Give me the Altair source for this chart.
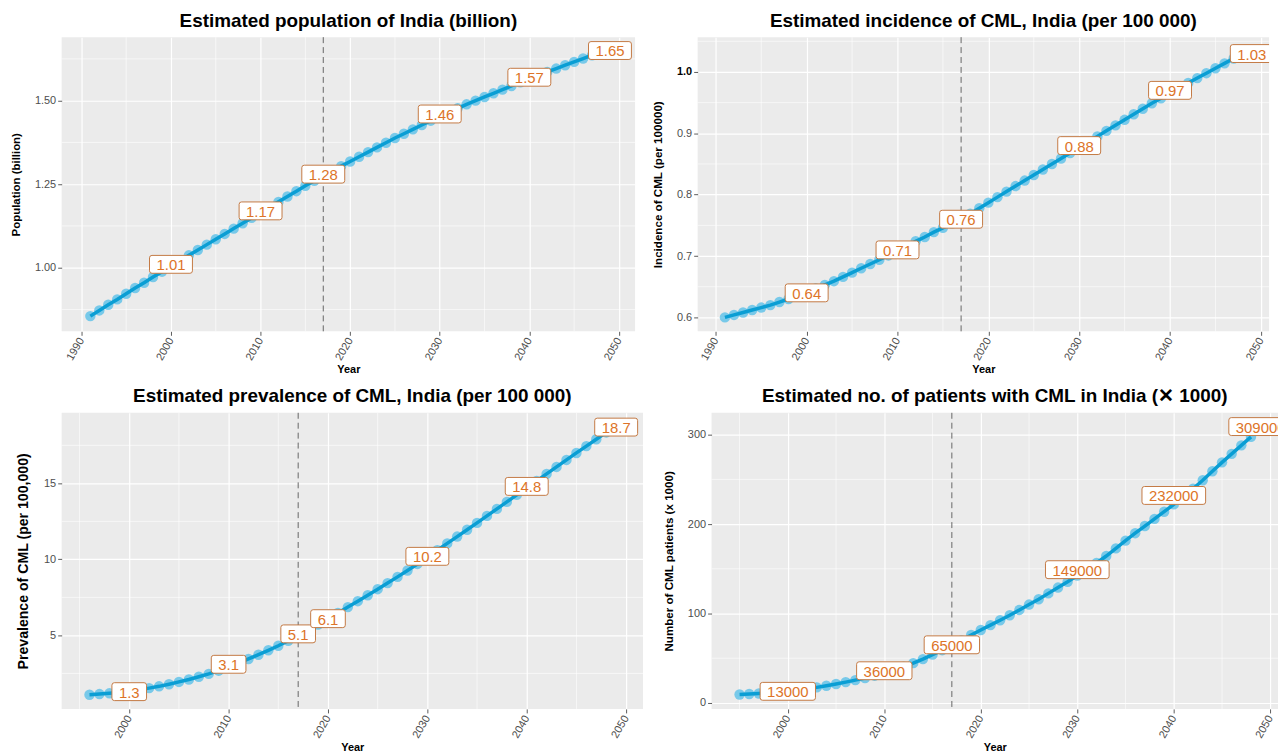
import altair as alt
import pandas as pd

# ---------------- data ----------------
x_major = [1990, 2000, 2010, 2020, 2030, 2040, 2050]
x_minor = [1995, 2005, 2015, 2025, 2035, 2045]
cut_year = [2017]

pop_years = list(range(1991, 2048))
pop_values = [0.855, 0.872, 0.889, 0.905, 0.922, 0.939, 0.955, 0.972, 0.988, 1.005,
              1.021, 1.037, 1.053, 1.069, 1.085, 1.101, 1.117, 1.133, 1.149, 1.165,
              1.181, 1.197, 1.213, 1.229, 1.245, 1.260, 1.275, 1.290, 1.304, 1.318,
              1.332, 1.346, 1.360, 1.374, 1.388, 1.401, 1.414, 1.427, 1.440, 1.453,
              1.465, 1.477, 1.489, 1.500, 1.511, 1.522, 1.533, 1.544, 1.555, 1.566,
              1.576, 1.586, 1.596, 1.606, 1.616, 1.626, 1.636]
pop_label_years = [2000, 2010, 2017, 2030, 2040, 2049]
pop_label_values = [1.01, 1.17, 1.28, 1.46, 1.57, 1.65]
pop_label_texts = ["1.01", "1.17", "1.28", "1.46", "1.57", "1.65"]

inc_years = list(range(1991, 2048))
inc_values = [0.600, 0.604, 0.608, 0.612, 0.616, 0.620, 0.625, 0.630, 0.635, 0.641,
              0.647, 0.653, 0.659, 0.666, 0.673, 0.680, 0.687, 0.694, 0.701, 0.708,
              0.716, 0.724, 0.731, 0.739, 0.746, 0.753, 0.760, 0.769, 0.778, 0.787,
              0.796, 0.805, 0.814, 0.823, 0.832, 0.841, 0.850, 0.859, 0.868, 0.877,
              0.886, 0.895, 0.904, 0.913, 0.922, 0.931, 0.940, 0.949, 0.957, 0.966,
              0.974, 0.982, 0.990, 0.998, 1.006, 1.014, 1.022]
inc_label_years = [2000, 2010, 2017, 2030, 2040, 2049]
inc_label_values = [0.64, 0.71, 0.76, 0.88, 0.97, 1.03]
inc_label_texts = ["0.64", "0.71", "0.76", "0.88", "0.97", "1.03"]

prev_years = list(range(1996, 2049))
prev_values = [1.10, 1.14, 1.19, 1.25, 1.32, 1.42, 1.53, 1.65, 1.79, 1.94,
               2.10, 2.28, 2.47, 2.68, 2.92, 3.18, 3.45, 3.73, 4.02, 4.32,
               4.65, 5.00, 5.35, 5.72, 6.10, 6.48, 6.86, 7.25, 7.64, 8.04,
               8.44, 8.85, 9.27, 9.70, 10.15, 10.60, 11.05, 11.50, 11.95, 12.40,
               12.86, 13.32, 13.78, 14.24, 14.70, 15.16, 15.62, 16.08, 16.54, 17.00,
               17.45, 17.90, 18.35]
prev_label_years = [2000, 2010, 2017, 2020, 2030, 2040, 2049]
prev_label_values = [1.3, 3.1, 5.1, 6.1, 10.2, 14.8, 18.7]
prev_label_texts = ["1.3", "3.1", "5.1", "6.1", "10.2", "14.8", "18.7"]

pat_years = list(range(1995, 2049))
pat_values = [9.5, 10.0, 10.6, 11.3, 12.2, 13.2, 14.4, 15.8, 17.4, 19.2,
              21.2, 23.3, 25.5, 27.9, 30.5, 33.5, 36.8, 40.5, 44.5, 49.0,
              54.0, 59.0, 64.0, 70.0, 76.0, 81.5, 87.0, 92.5, 98.0, 104.0,
              110.0, 116.0, 122.5, 129.0, 135.5, 142.5, 149.2, 156.5, 164.3, 172.8,
              181.5, 189.8, 197.8, 205.8, 213.8, 222.0, 230.5, 239.5, 249.0, 259.0,
              269.0, 278.5, 288.0, 297.5]
pat_label_years = [2000, 2010, 2017, 2030, 2040, 2049]
pat_label_values = [13, 36, 65, 149, 232, 309]
pat_label_texts = ["13000", "36000", "65000", "149000", "232000", "309000"]

# ---------------- style ----------------
TITLE_FONT = "Liberation Sans Narrow, Liberation Sans, Arial"
FONT = "Liberation Sans"
POINT_COLOR = "#52BDE8"
LINE_COLOR = "#0A9ED4"
LABEL_TEXT = "#DD7428"
LABEL_EDGE = "#C47A45"
LABEL_FS = 15


def box_path(txt):
    tw = sum(4.17 if c == "." else 8.34 for c in txt)
    w = tw / 2 + 7
    h = 9
    r = 2.5
    return (f"M{-w + r},{-h} L{w - r},{-h} Q{w},{-h} {w},{-h + r} "
            f"L{w},{h - r} Q{w},{h} {w - r},{h} L{-w + r},{h} "
            f"Q{-w},{h} {-w},{h - r} L{-w},{-h + r} Q{-w},{-h} {-w + r},{-h} Z")


def panel(years, values, lab_years, lab_vals, lab_texts, title, ytitle, ytitle_size,
          xdom, ydom, yticks, yfmt, yminor, w, h, yext, extra_y=None):
    series = pd.DataFrame({"Year": years, "v": values})
    labs = pd.DataFrame({"Year": lab_years, "v": lab_vals, "txt": lab_texts,
                         "box": [box_path(t) for t in lab_texts]})
    xs = alt.Scale(domain=xdom, nice=False, zero=False)
    ys = alt.Scale(domain=ydom, nice=False, zero=False)
    xax = alt.Axis(values=x_major, format="d", labelAngle=300, labelAlign="right",
                   labelBaseline="middle", title="Year", titleFontSize=11,
                   titlePadding=2, labelPadding=3)
    ykw = dict(values=yticks, format=yfmt, title=ytitle, titleFontSize=ytitle_size,
               minExtent=yext, maxExtent=yext, titlePadding=3)
    if extra_y:
        ykw.update(extra_y)
    yax = alt.Axis(**ykw)
    X = alt.X("Year:Q", scale=xs, axis=xax)
    Y = alt.Y("v:Q", scale=ys, axis=yax)

    vminor = alt.Chart(pd.DataFrame({"Year": x_minor})).mark_rule(
        color="white", strokeWidth=0.6).encode(x=X)
    hminor = alt.Chart(pd.DataFrame({"v": yminor})).mark_rule(
        color="white", strokeWidth=0.6).encode(y=Y)
    vline = alt.Chart(pd.DataFrame({"Year": cut_year})).mark_rule(
        color="#666666", strokeDash=[6, 4], strokeWidth=1).encode(x=X)
    pts = alt.Chart(series).mark_circle(size=110, color=POINT_COLOR, opacity=0.75).encode(x=X, y=Y)
    line = alt.Chart(series).mark_line(color=LINE_COLOR, strokeWidth=3.5).encode(x=X, y=Y)
    boxes = alt.Chart(labs).mark_point(filled=True, fill="white", stroke=LABEL_EDGE,
                                       strokeWidth=1, opacity=1, size=4, clip=True).encode(
        x=X, y=Y, shape=alt.Shape("box:N", scale=None))
    texts = alt.Chart(labs).mark_text(font=FONT, fontSize=LABEL_FS, color=LABEL_TEXT,
                                      baseline="middle", dy=1, clip=True).encode(
        x=X, y=Y, text="txt:N")
    return alt.layer(vminor, hminor, vline, pts, line, boxes, texts).properties(
        width=w, height=h,
        title=alt.TitleParams(text=title, font=TITLE_FONT, fontSize=19, fontWeight="bold",
                              anchor="middle", offset=6, color="black"))


p1 = panel(pop_years, pop_values, pop_label_years, pop_label_values, pop_label_texts,
           "Estimated population of India (billion)", "Population (billion)", 11.5,
           [1987.8, 2051.8], [0.8095, 1.690], [1.0, 1.25, 1.5], ".2f",
           [0.875, 1.125, 1.375, 1.625], 577, 296, 37)

p2 = panel(inc_years, inc_values, inc_label_years, inc_label_values, inc_label_texts,
           "Estimated incidence of CML, India (per 100 000)", "Incidence of CML (per 100000)", 11.7,
           [1988.0, 2050.9], [0.5773, 1.0567], [0.6, 0.7, 0.8, 0.9, 1.0], ".1f",
           [0.65, 0.75, 0.85, 0.95, 1.05], 575, 296, 31,
           extra_y=dict(labelFontWeight=alt.condition("datum.value == 1", alt.value("bold"), alt.value("normal")),
                        labelColor=alt.condition("datum.value == 1", alt.value("black"), alt.value("#4D4D4D"))))

p3 = panel(prev_years, prev_values, prev_label_years, prev_label_values, prev_label_texts,
           "Estimated prevalence of CML, India (per 100 000)", "Prevalence of CML (per 100,000)", 14.2,
           [1993.2, 2051.7], [0.163, 19.64], [5, 10, 15], "d",
           [2.5, 7.5, 12.5, 17.5], 585, 298, 28)

p4 = panel(pat_years, pat_values, pat_label_years, pat_label_values, pat_label_texts,
           "Estimated no. of patients with CML in India (\u2715 1000)", "Number of CML patients (x 1000)", 11.7,
           [1992.1, 2050.8], [-6.7, 324.4], [0, 100, 200, 300], "d",
           [50, 150, 250], 570, 298, 34)

chart = alt.vconcat(
    alt.hconcat(p1, p2, spacing=17),
    alt.hconcat(p3, p4, spacing=20),
    spacing=12,
).properties(
    padding={"left": 3, "top": 1, "right": 0, "bottom": 0},
    background="white",
).configure_view(
    fill="#EBEBEB", stroke=None
).configure_axis(
    gridColor="white", gridWidth=1.2, domain=False, tickColor="#333333", tickSize=4,
    tickWidth=0.8, labelColor="#4D4D4D", labelFont=FONT, labelFontSize=11,
    titleFont=FONT, titleFontWeight="bold", titleColor="black"
)

chart.save("out.html", embed_options={"renderer": "svg", "actions": False})
